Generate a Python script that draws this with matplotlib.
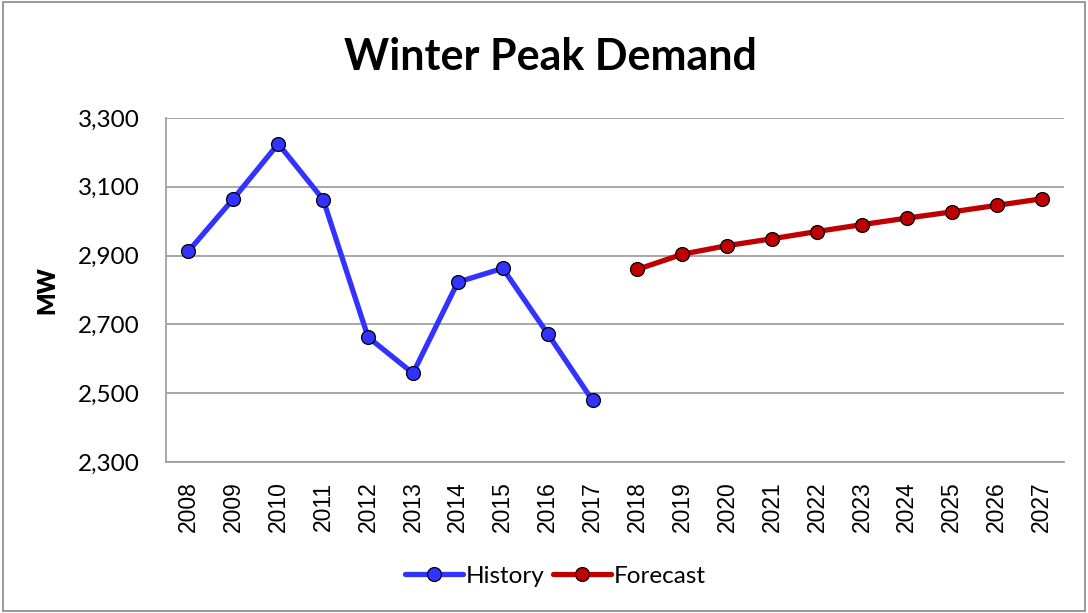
import matplotlib
matplotlib.use("Agg")
import matplotlib.pyplot as plt
from matplotlib.patches import Rectangle

years = [str(y) for y in range(2008, 2028)]
history_years = years[:10]
forecast_years = years[10:]
history = [2913, 3065, 3225, 3063, 2663, 2558, 2823, 2863, 2673, 2479]
forecast = [2860, 2904, 2929, 2949, 2970, 2990, 3009, 3027, 3046, 3065]
yticks = [2300, 2500, 2700, 2900, 3100, 3300]

fig = plt.figure(figsize=(10.88, 6.13), dpi=100)
ax = fig.add_axes([166/1088, 1-462/613, 898/1088, 344/613])

x_hist = [years.index(y) for y in history_years]
x_fc = [years.index(y) for y in forecast_years]

ax.plot(x_hist, history, color="#3333FF", lw=3.8, marker="o", ms=10,
        mfc="#3333FF", mec="black", mew=0.9, label="History", solid_capstyle="round")
ax.plot(x_fc, forecast, color="#C00000", lw=3.8, marker="o", ms=10,
        mfc="#C00000", mec="black", mew=0.9, label="Forecast", solid_capstyle="round")

ax.set_xlim(-0.5, len(years) - 0.5)
ax.set_ylim(2300, 3300)
ax.set_yticks(yticks)
ax.set_yticklabels([f"{v:,}" for v in yticks], fontfamily="Lato", fontsize=17.5)
ax.set_xticks(range(len(years)))
ax.set_xticklabels(years, rotation=90, fontfamily="Liberation Sans", fontsize=16.5)
ax.tick_params(axis="x", length=0, pad=14)
ax.tick_params(axis="y", length=0, pad=19)
ax.grid(axis="y", color="#A0A0A0", lw=1.3)
ax.set_axisbelow(True)
for s in ["top", "right"]:
    ax.spines[s].set_visible(False)
for s in ["left", "bottom"]:
    ax.spines[s].set_color("#A0A0A0")
    ax.spines[s].set_linewidth(1.3)

ax.set_ylabel("MW", fontfamily="Lato", fontweight="heavy", fontsize=17)
ax.yaxis.set_label_coords((58 - 166) / 898, 0.5)

fig.text(550/1088, 1-57/613, "Winter Peak Demand", ha="center", va="center",
         fontfamily="Lato", fontweight="bold", fontsize=31)

leg = fig.legend(loc="center", bbox_to_anchor=(555/1088, 1-576/613), ncol=2,
                 frameon=False, prop={"family": "Lato", "size": 17.5},
                 handlelength=2.4, handletextpad=0.1, columnspacing=0.35)

fig.patches.append(Rectangle((0.003, 0.003), 0.994, 0.994, transform=fig.transFigure,
                             fill=False, edgecolor="#888888", lw=1.2))

fig.savefig("out.png", dpi=100, facecolor="white")
